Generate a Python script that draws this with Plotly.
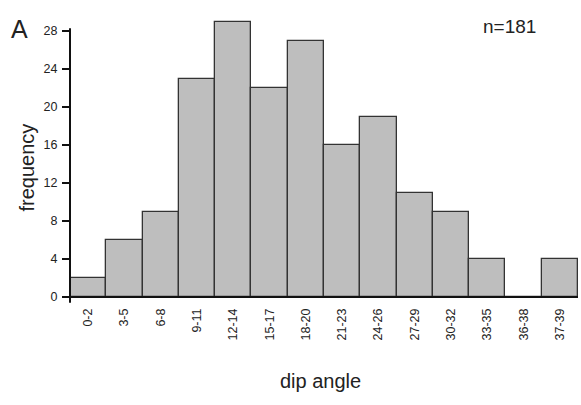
import plotly.graph_objects as go

categories = ["0-2", "3-5", "6-8", "9-11", "12-14", "15-17", "18-20", "21-23",
              "24-26", "27-29", "30-32", "33-35", "36-38", "37-39"]
frequency = [2, 6, 9, 23, 29, 22, 27, 16, 19, 11, 9, 4, 0, 4]
y_ticks = [0, 4, 8, 12, 16, 20, 24, 28]

YMAX = 30
FONT = "Liberation Sans, Arial, sans-serif"
TXT = "#222222"

fig = go.Figure(go.Bar(
    x=categories, y=frequency,
    marker=dict(color="#BEBEBE", line=dict(color="#333333", width=1.3)),
))

fig.update_layout(
    width=581, height=405,
    margin=dict(l=70, r=3, t=12, b=108),
    paper_bgcolor="white", plot_bgcolor="white",
    bargap=0, showlegend=False,
    font=dict(family=FONT, color=TXT),
    xaxis=dict(type="category", range=[-0.5, len(categories) - 0.5],
               showline=False, showgrid=False, zeroline=False, ticks="",
               tickangle=-90, tickfont=dict(size=12.5, color=TXT),
               ticklabelstandoff=8),
    yaxis=dict(range=[0, YMAX], tickvals=y_ticks, showline=False, showgrid=False,
               zeroline=False, ticks="outside", ticklen=7, tickwidth=2,
               tickcolor="#111", tickfont=dict(size=12.5, color=TXT),
               ticklabelstandoff=2),
    shapes=[
        dict(type="line", xref="paper", yref="paper", x0=0, x1=0,
             y0=-0.6 / YMAX, y1=28.3 / YMAX, line=dict(color="#111", width=2)),
        dict(type="line", xref="paper", yref="paper", x0=-5 / 508, x1=1,
             y0=0, y1=0, line=dict(color="#111", width=2)),
    ],
    annotations=[
        dict(text="frequency", xref="paper", yref="paper", x=-43 / 508, y=(297.5 - 168) / 285,
             textangle=-90, showarrow=False, font=dict(size=20, color=TXT),
             xanchor="center", yanchor="middle"),
        dict(text="dip angle", xref="paper", yref="paper", x=(320 - 70) / 508, y=-(381 - 297.5) / 285,
             showarrow=False, font=dict(size=20, color=TXT),
             xanchor="center", yanchor="middle"),
        dict(text="A", xref="paper", yref="paper", x=-(70 - 19) / 508, y=(297.5 - 30) / 285,
             showarrow=False, font=dict(size=25, color=TXT),
             xanchor="center", yanchor="middle"),
        dict(text="n=181", xref="paper", yref="paper", x=(509 - 70) / 508, y=(297.5 - 27) / 285,
             showarrow=False, font=dict(size=19, color=TXT),
             xanchor="center", yanchor="middle"),
    ],
)

fig.write_html("out.html")
